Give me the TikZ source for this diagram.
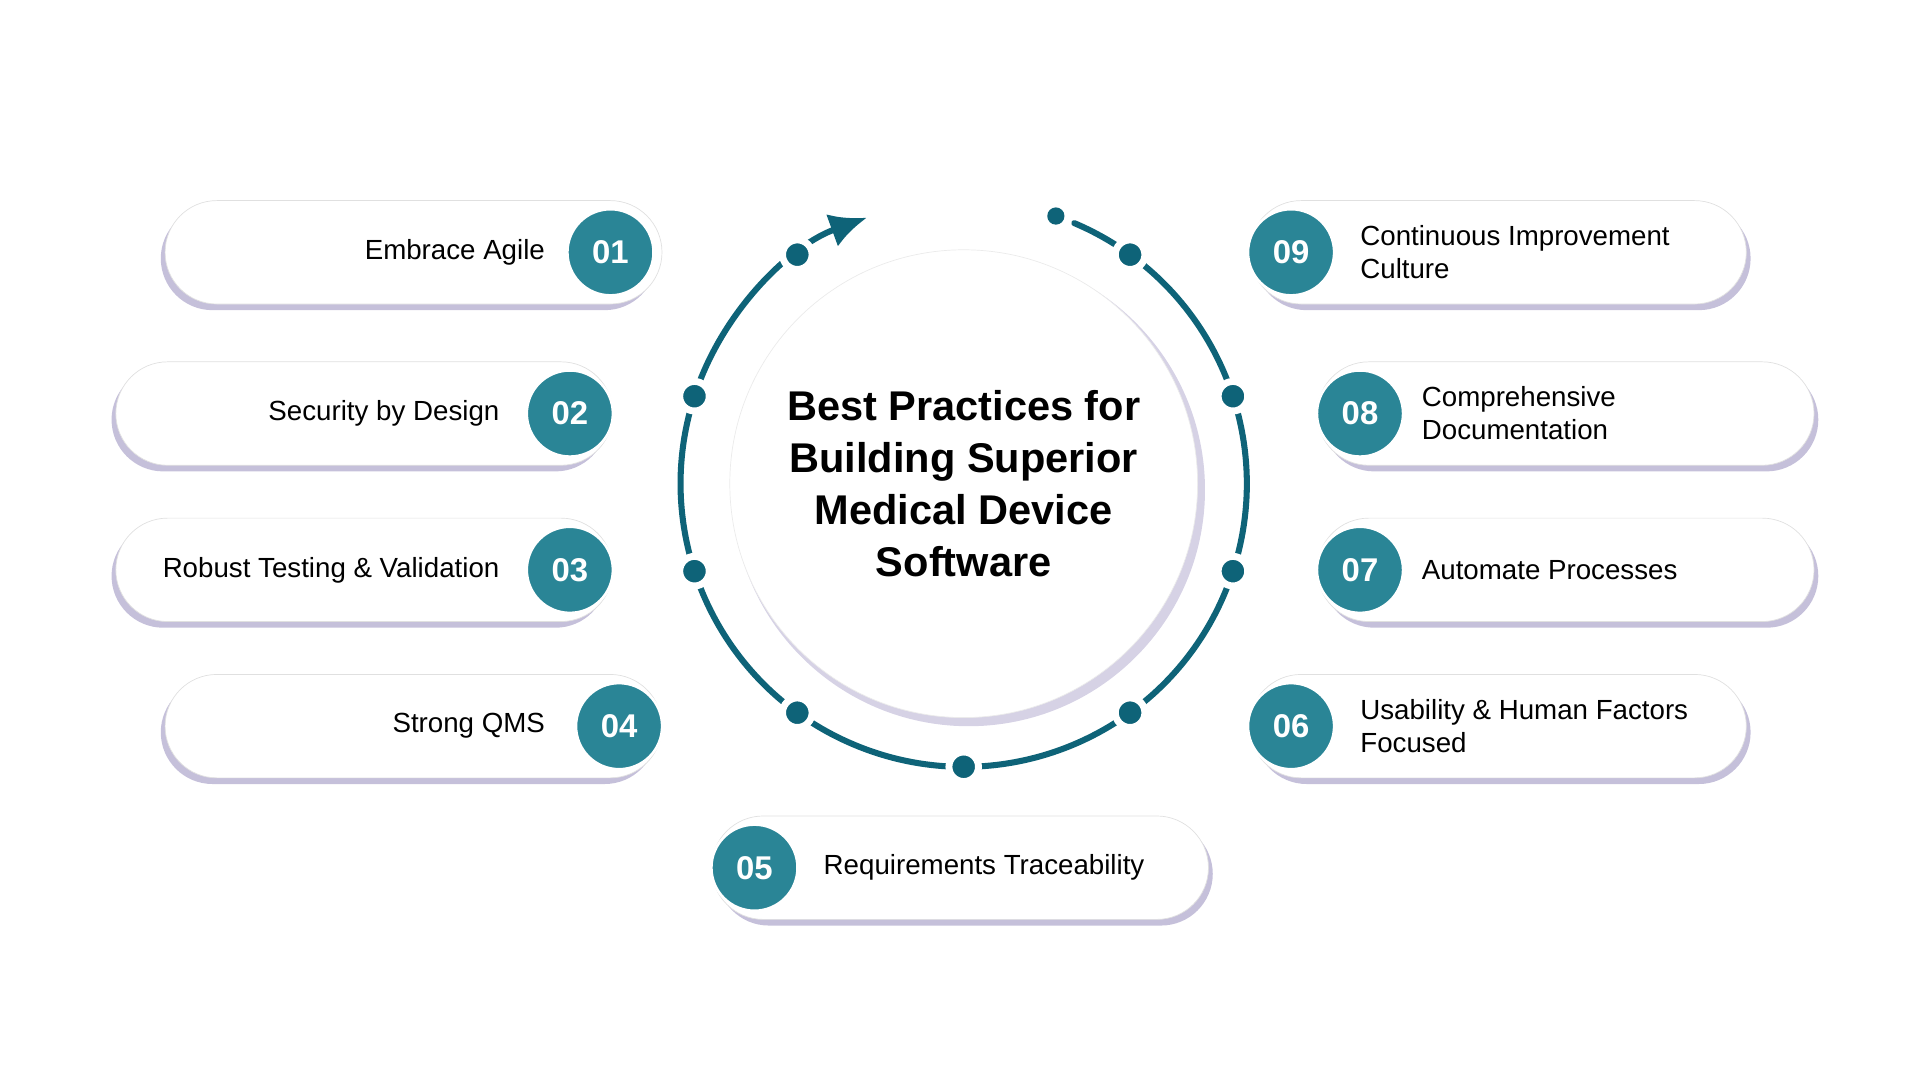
\documentclass[tikz,border=0pt]{standalone}
\usepackage{fontspec}
\setmainfont{Liberation Sans}
\usetikzlibrary{shapes.misc,positioning,arrows.meta}
\definecolor{ringteal}{HTML}{0E6378}
\definecolor{numteal}{HTML}{2A8596}
\definecolor{shadowpurple}{HTML}{5A4A96}
\begin{document}
\begin{tikzpicture}[x=0.025cm,y=-0.025cm,
  pill/.style={rounded rectangle,draw=black!12,fill=white,minimum width=10.325cm,minimum height=2.1cm},
  pillshadow/.style={rounded rectangle,fill=shadowpurple,opacity=0.35,minimum width=10.3cm,minimum height=2.1cm},
  num/.style={circle,fill=numteal,draw=white,line width=1.5pt,minimum size=1.75cm,inner sep=0pt,text=white,font=\fontsize{19}{22}\selectfont\bfseries},
  lab/.style={font=\fontsize{16}{19}\selectfont,align=left,inner sep=0pt},
  ringdot/.style={circle,fill=ringteal,draw=white,line width=4pt,minimum size=0.6cm,inner sep=0pt}]
\useasboundingbox (0,0) rectangle (1560,878);
% centre
\node (hubshadow) [circle,fill=shadowpurple,opacity=0.25,minimum size=9.6cm] at (787,398) {};
\node (hub) [circle,fill=white,draw=black!8,minimum size=9.5cm,align=center,
  font=\fontsize{24}{30}\selectfont\bfseries] at (783,393)
  {Best Practices for\\Building Superior\\Medical Device\\Software};
% ring
\draw[ringteal,line width=3.5pt,line cap=round,-{Latex[length=0.75cm,width=0.7cm]}] ([shift={(-67:230)}]783,393) arc[start angle=-67,end angle=250,radius=230];
\fill[ringteal] ([shift={(-71:230)}]783,393) circle (7);
\foreach \a in {126,162,198,234,270,306,342,378,414}
  \node[ringdot] at ([shift={(-\a:230)}]783,393) {};
% left pills
\node (p1s) [pillshadow] at (332,210) {};
\node (p1) [pill] at (336,205) {};
\node (n1) [num] at (496,205) {01};
\node (t1) [lab,anchor=east] at (443,205) {Embrace Agile};
\node (p2s) [pillshadow] at (292,341) {};
\node (p2) [pill] at (296,336) {};
\node (n2) [num] at (463,336) {02};
\node (t2) [lab,anchor=east] at (406,336) {Security by Design};
\node (p3s) [pillshadow] at (292,468) {};
\node (p3) [pill] at (296,463) {};
\node (n3) [num] at (463,463) {03};
\node (t3) [lab,anchor=east] at (406,463) {Robust Testing \& Validation};
\node (p4s) [pillshadow] at (332,595) {};
\node (p4) [pill] at (336,590) {};
\node (n4) [num] at (503,590) {04};
\node (t4) [lab,anchor=east] at (443,590) {Strong QMS};
% bottom pill
\node (p5s) [pillshadow] at (784,710) {};
\node (p5) [pill] at (780,705) {};
\node (n5) [num] at (613,705) {05};
\node (t5) [lab,anchor=west] at (669,705) {Requirements Traceability};
% right pills
\node (p6s) [pillshadow] at (1221,595) {};
\node (p6) [pill] at (1217,590) {};
\node (n6) [num] at (1049,590) {06};
\node (t6) [lab,anchor=west] at (1105,590) {Usability \& Human Factors\\Focused};
\node (p7s) [pillshadow] at (1276,468) {};
\node (p7) [pill] at (1272,463) {};
\node (n7) [num] at (1105,463) {07};
\node (t7) [lab,anchor=west] at (1155,463) {Automate Processes};
\node (p8s) [pillshadow] at (1276,341) {};
\node (p8) [pill] at (1272,336) {};
\node (n8) [num] at (1105,336) {08};
\node (t8) [lab,anchor=west] at (1155,336) {Comprehensive\\Documentation};
\node (p9s) [pillshadow] at (1221,210) {};
\node (p9) [pill] at (1217,205) {};
\node (n9) [num] at (1049,205) {09};
\node (t9) [lab,anchor=west] at (1105,205) {Continuous Improvement\\Culture};
\end{tikzpicture}
\end{document}
